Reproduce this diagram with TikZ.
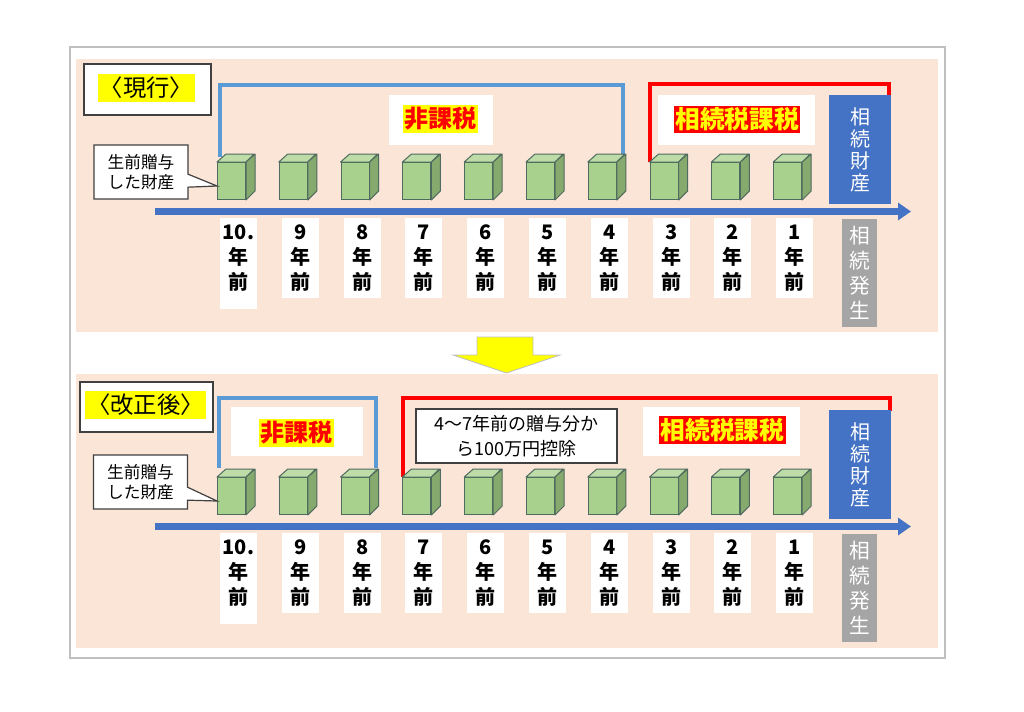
\documentclass[tikz,border=0pt]{standalone}
\usepackage{fontspec}
\setmainfont{Noto Sans CJK JP}
\usetikzlibrary{arrows.meta,shapes.callouts,calc}
\definecolor{peach}{HTML}{FBE5D6}
\definecolor{frameg}{HTML}{BFBFBF}
\definecolor{cubeF}{HTML}{A9D18E}
\definecolor{cubeT}{HTML}{BEDCA8}
\definecolor{cubeS}{HTML}{86AA6E}
\definecolor{cubeE}{HTML}{4F6B5F}
\definecolor{brblue}{HTML}{5B9BD5}
\definecolor{tlblue}{HTML}{4472C4}
\definecolor{grayb}{HTML}{A5A5A5}
\definecolor{hlred}{HTML}{FF0000}
\definecolor{hlyel}{HTML}{FFFF00}
\definecolor{edge}{HTML}{404040}
\tikzset{
  sz/.style 2 args={minimum width=0.75pt*#1, minimum height=0.75pt*#2},
  framebox/.style={draw=frameg, line width=1.125pt},
  tagbox/.style={draw=edge, fill=white, line width=1.125pt, inner sep=0pt},
  taghl/.style={fill=hlyel, inner xsep=1.5pt, inner ysep=2.5pt, font=\fontsize{17.5}{20}\selectfont},
  whitebox/.style={fill=white, inner sep=0pt},
  hlA/.style={fill=hlyel, text=hlred, inner xsep=1.1pt, inner ysep=1.5pt, font=\bfseries\fontsize{18}{20}\selectfont},
  hlB/.style={fill=hlred, text=hlyel, inner xsep=1.1pt, inner ysep=1.5pt, font=\bfseries\fontsize{18.5}{20}\selectfont},
  bluebox/.style={fill=tlblue, text=white, inner sep=0pt, align=center, font=\fontsize{15}{16.5}\selectfont},
  graybox/.style={fill=grayb, text=white, inner sep=0pt, align=center, font=\fontsize{15.5}{18.75}\selectfont},
  yearbox/.style={fill=white, inner sep=0pt, align=center, anchor=north, minimum width=27.75pt, minimum height=60pt, font=\bfseries\fontsize{15}{18.75}\selectfont},
  cubef/.style={draw=cubeE, fill=cubeF, line width=0.75pt, inner sep=0pt, anchor=north west, minimum width=21pt, minimum height=27.75pt},
  cubetop/.style={draw=cubeE, fill=cubeT, line width=0.75pt, line join=round},
  cubeside/.style={draw=cubeE, fill=cubeS, line width=0.75pt, line join=round},
  nfbr/.style={draw=brblue, line width=3pt},
  taxbr/.style={draw=hlred, line width=3pt},
  tline/.style={draw=tlblue, line width=5.25pt, -{Triangle[length=9.75pt,width=12.75pt]}},
  callbox/.style={rectangle callout, draw=edge, fill=white, line width=0.9pt, inner sep=0pt, align=center, callout pointer width=9.75pt, font=\fontsize{12.5}{15}\selectfont},
  notebox/.style={draw=edge, fill=white, line width=1.125pt, inner sep=0pt, align=center, font=\fontsize{13.5}{18.75}\selectfont},
  yarrow/.style={fill=hlyel, draw=frameg, line width=0.6pt}
}
\begin{document}
\begin{tikzpicture}[x=0.75pt,y=-0.75pt]
\useasboundingbox (0,0) rectangle (1024,711);
\fill[white] (0,0) rectangle (1024,711);
\draw[framebox] (70,47) rectangle (945,658);
\fill[peach] (76,59) rectangle (938,332);
\fill[peach] (76,374) rectangle (938,648);

% yellow down arrow
\filldraw[yarrow] (477,337) -- (533,337) -- (533,355) -- (560,355) -- (506.5,373) -- (453,355) -- (477,355) -- cycle;

% brackets (drawn first, cubes and boxes cover their ends)
\draw[nfbr] (220,157) |- (623,85) -- (623,157);
\draw[taxbr] (649.5,162) |- (889,84) -- (889,97);
\draw[nfbr] (219,468) |- (376,398) -- (376,468);
\draw[taxbr] (402.5,477) |- (890,398) -- (890,411);

\foreach \p/\o in {a/0,b/315} {
 \begin{scope}[shift={(0,\o)}]
  \coordinate (\p tl0) at (155,211.5);
  \coordinate (\p tl1) at (911,211.5);
  \draw[tline] (\p tl0) -- (\p tl1);
  \foreach \i in {1,...,10} {
    \pgfmathsetmacro\xx{217+61.8*(\i-1)}
    \node[cubef] (\p c\i) at (\xx,162) {};
    \filldraw[cubetop] (\p c\i.north west) -- ++(9,-8) -- ++(28,0) -- (\p c\i.north east) -- cycle;
    \filldraw[cubeside] (\p c\i.north east) -- ++(9,-8) -- ++(0,37) -- (\p c\i.south east) -- cycle;
  }
  \fill[white] (220,260) rectangle (257,309);
  \foreach \t [count=\i] in {10.,9,8,7,6,5,4,3,2,1} {
    \pgfmathsetmacro\xx{238.5+61.8*(\i-1)}
    \node[yearbox] (\p y\i) at (\xx,218) {\t\\年\\前};
  }
  \node[bluebox, sz={62}{109}] (\p k) at (860,149.5) {相\\続\\財\\産};
  \node[graybox, sz={35}{108}] (\p g) at (859.5,273) {相\\続\\発\\生};
 \end{scope}
}

% top panel
\node[tagbox, sz={127}{51}] (tagA) at (147.5,89.5) {};
\node[taghl] (tagAt) at (146.5,88) {〈現行〉};
\node[whitebox, sz={104}{50}] (nkA) at (441,120) {};
\node[hlA] (nkAt) at (440.5,119) {非課税};
\node[whitebox, sz={157}{50}] (kzA) at (736.5,120) {};
\node[hlB] (kzAt) at (737,119.5) {相続税課税};
\node[callbox, sz={94}{54}, callout absolute pointer={($(ac1.west)+(0,5)$)}] (cbA) at (141,172) {生前贈与\\した財産};

% bottom panel
\node[tagbox, sz={133}{50}] (tagB) at (146.5,407) {};
\node[taghl] (tagBt) at (145.5,405) {〈改正後〉};
\node[whitebox, sz={132}{49}] (nkB) at (297,431.5) {};
\node[hlA] (nkBt) at (296.5,433) {非課税};
\node[notebox, sz={201}{54}] (ntB) at (516.5,436) {4〜7年前の贈与分か\\ら100万円控除};
\node[whitebox, sz={157}{49}] (kzB) at (721.5,431.5) {};
\node[hlB] (kzBt) at (722.5,430) {相続税課税};
\node[callbox, sz={94}{54}, callout absolute pointer={($(bc1.west)+(0,5)$)}] (cbB) at (140.5,482) {生前贈与\\した財産};
\end{tikzpicture}
\end{document}
